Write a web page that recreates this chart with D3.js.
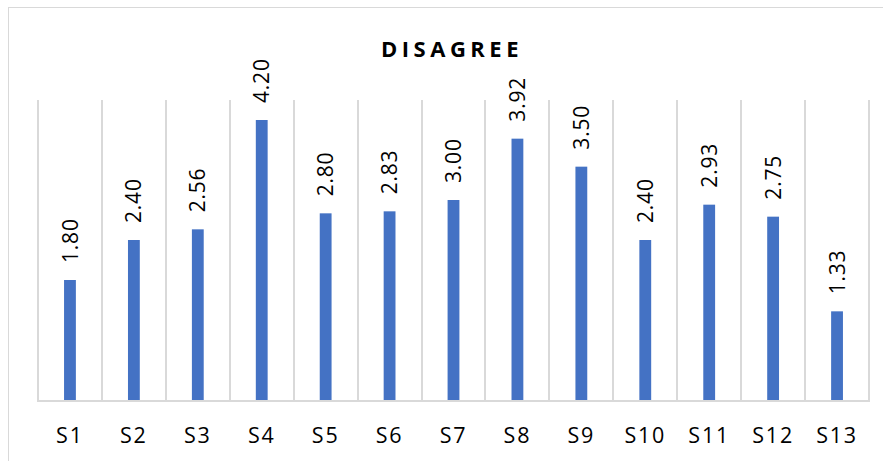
<!DOCTYPE html>
<html>
<head>
<meta charset="utf-8">
<script src="https://cdn.jsdelivr.net/npm/d3@7"></script>
<style>
  body { margin: 0; background: #fff; }
</style>
</head>
<body>
<script>
const width = 883;
const height = 461;

const categories = ['S1', 'S2', 'S3', 'S4', 'S5', 'S6', 'S7', 'S8', 'S9', 'S10', 'S11', 'S12', 'S13'];
const values = [1.80, 2.40, 2.56, 4.20, 2.80, 2.83, 3.00, 3.92, 3.50, 2.40, 2.93, 2.75, 1.33];

const plotLeft = 38;
const plotRight = 869;
const plotTop = 100;
const plotBottom = 400;

const svg = d3.select('body')
  .append('svg')
  .attr('width', width)
  .attr('height', height);

svg.append('rect')
  .attr('width', width)
  .attr('height', height)
  .attr('fill', 'white');

// chart border (runs past the right/bottom edge)
svg.append('rect')
  .attr('x', 8.5)
  .attr('y', 7.5)
  .attr('width', width + 20)
  .attr('height', height + 20)
  .attr('fill', 'none')
  .attr('stroke', '#d9d9d9');

const x = d3.scaleBand()
  .domain(categories)
  .range([plotLeft, plotRight])
  .padding(0);

const y = d3.scaleLinear()
  .domain([0, 4.5])
  .range([plotBottom, plotTop]);

const barWidth = x.bandwidth() * 0.185;

// vertical gridlines at category boundaries
const edges = categories.map(d => x(d)).concat([plotRight]);
svg.selectAll('.grid')
  .data(edges)
  .enter()
  .append('line')
  .attr('x1', d => Math.round(d))
  .attr('x2', d => Math.round(d))
  .attr('y1', plotTop)
  .attr('y2', plotBottom)
  .attr('stroke', '#d9d9d9')
  .attr('stroke-width', 2);

// bars
svg.selectAll('.bar')
  .data(values)
  .enter()
  .append('rect')
  .attr('x', (d, i) => x(categories[i]) + x.bandwidth() / 2 - barWidth / 2)
  .attr('y', d => y(d))
  .attr('width', barWidth)
  .attr('height', d => plotBottom - y(d))
  .attr('fill', '#4472c4');

// baseline
svg.append('line')
  .attr('x1', plotLeft - 1)
  .attr('x2', plotRight + 1)
  .attr('y1', plotBottom + 1)
  .attr('y2', plotBottom + 1)
  .attr('stroke', '#d9d9d9')
  .attr('stroke-width', 2);

// value labels, rotated
svg.selectAll('.label')
  .data(values)
  .enter()
  .append('text')
  .attr('transform', (d, i) => `translate(${x(categories[i]) + x.bandwidth() / 2},${y(d) - 17}) rotate(-90)`)
  .attr('dy', '0.36em')
  .attr('font-family', '"Open Sans", sans-serif')
  .attr('font-size', 21)
  .attr('letter-spacing', 0.8)
  .attr('fill', '#000')
  .text(d => d.toFixed(2));

// category labels
svg.selectAll('.cat')
  .data(categories)
  .enter()
  .append('text')
  .attr('x', d => x(d) + x.bandwidth() / 2)
  .attr('y', 443)
  .attr('text-anchor', 'middle')
  .attr('font-family', '"Open Sans", sans-serif')
  .attr('font-size', 21.5)
  .attr('letter-spacing', 1.8)
  .attr('fill', '#000')
  .text(d => d);

// title
svg.append('text')
  .attr('x', 452)
  .attr('y', 57)
  .attr('text-anchor', 'middle')
  .attr('font-family', '"Open Sans", sans-serif')
  .attr('font-size', 22)
  .attr('font-weight', 'bold')
  .attr('letter-spacing', 4.5)
  .attr('fill', '#000')
  .text('DISAGREE');
</script>
</body>
</html>
